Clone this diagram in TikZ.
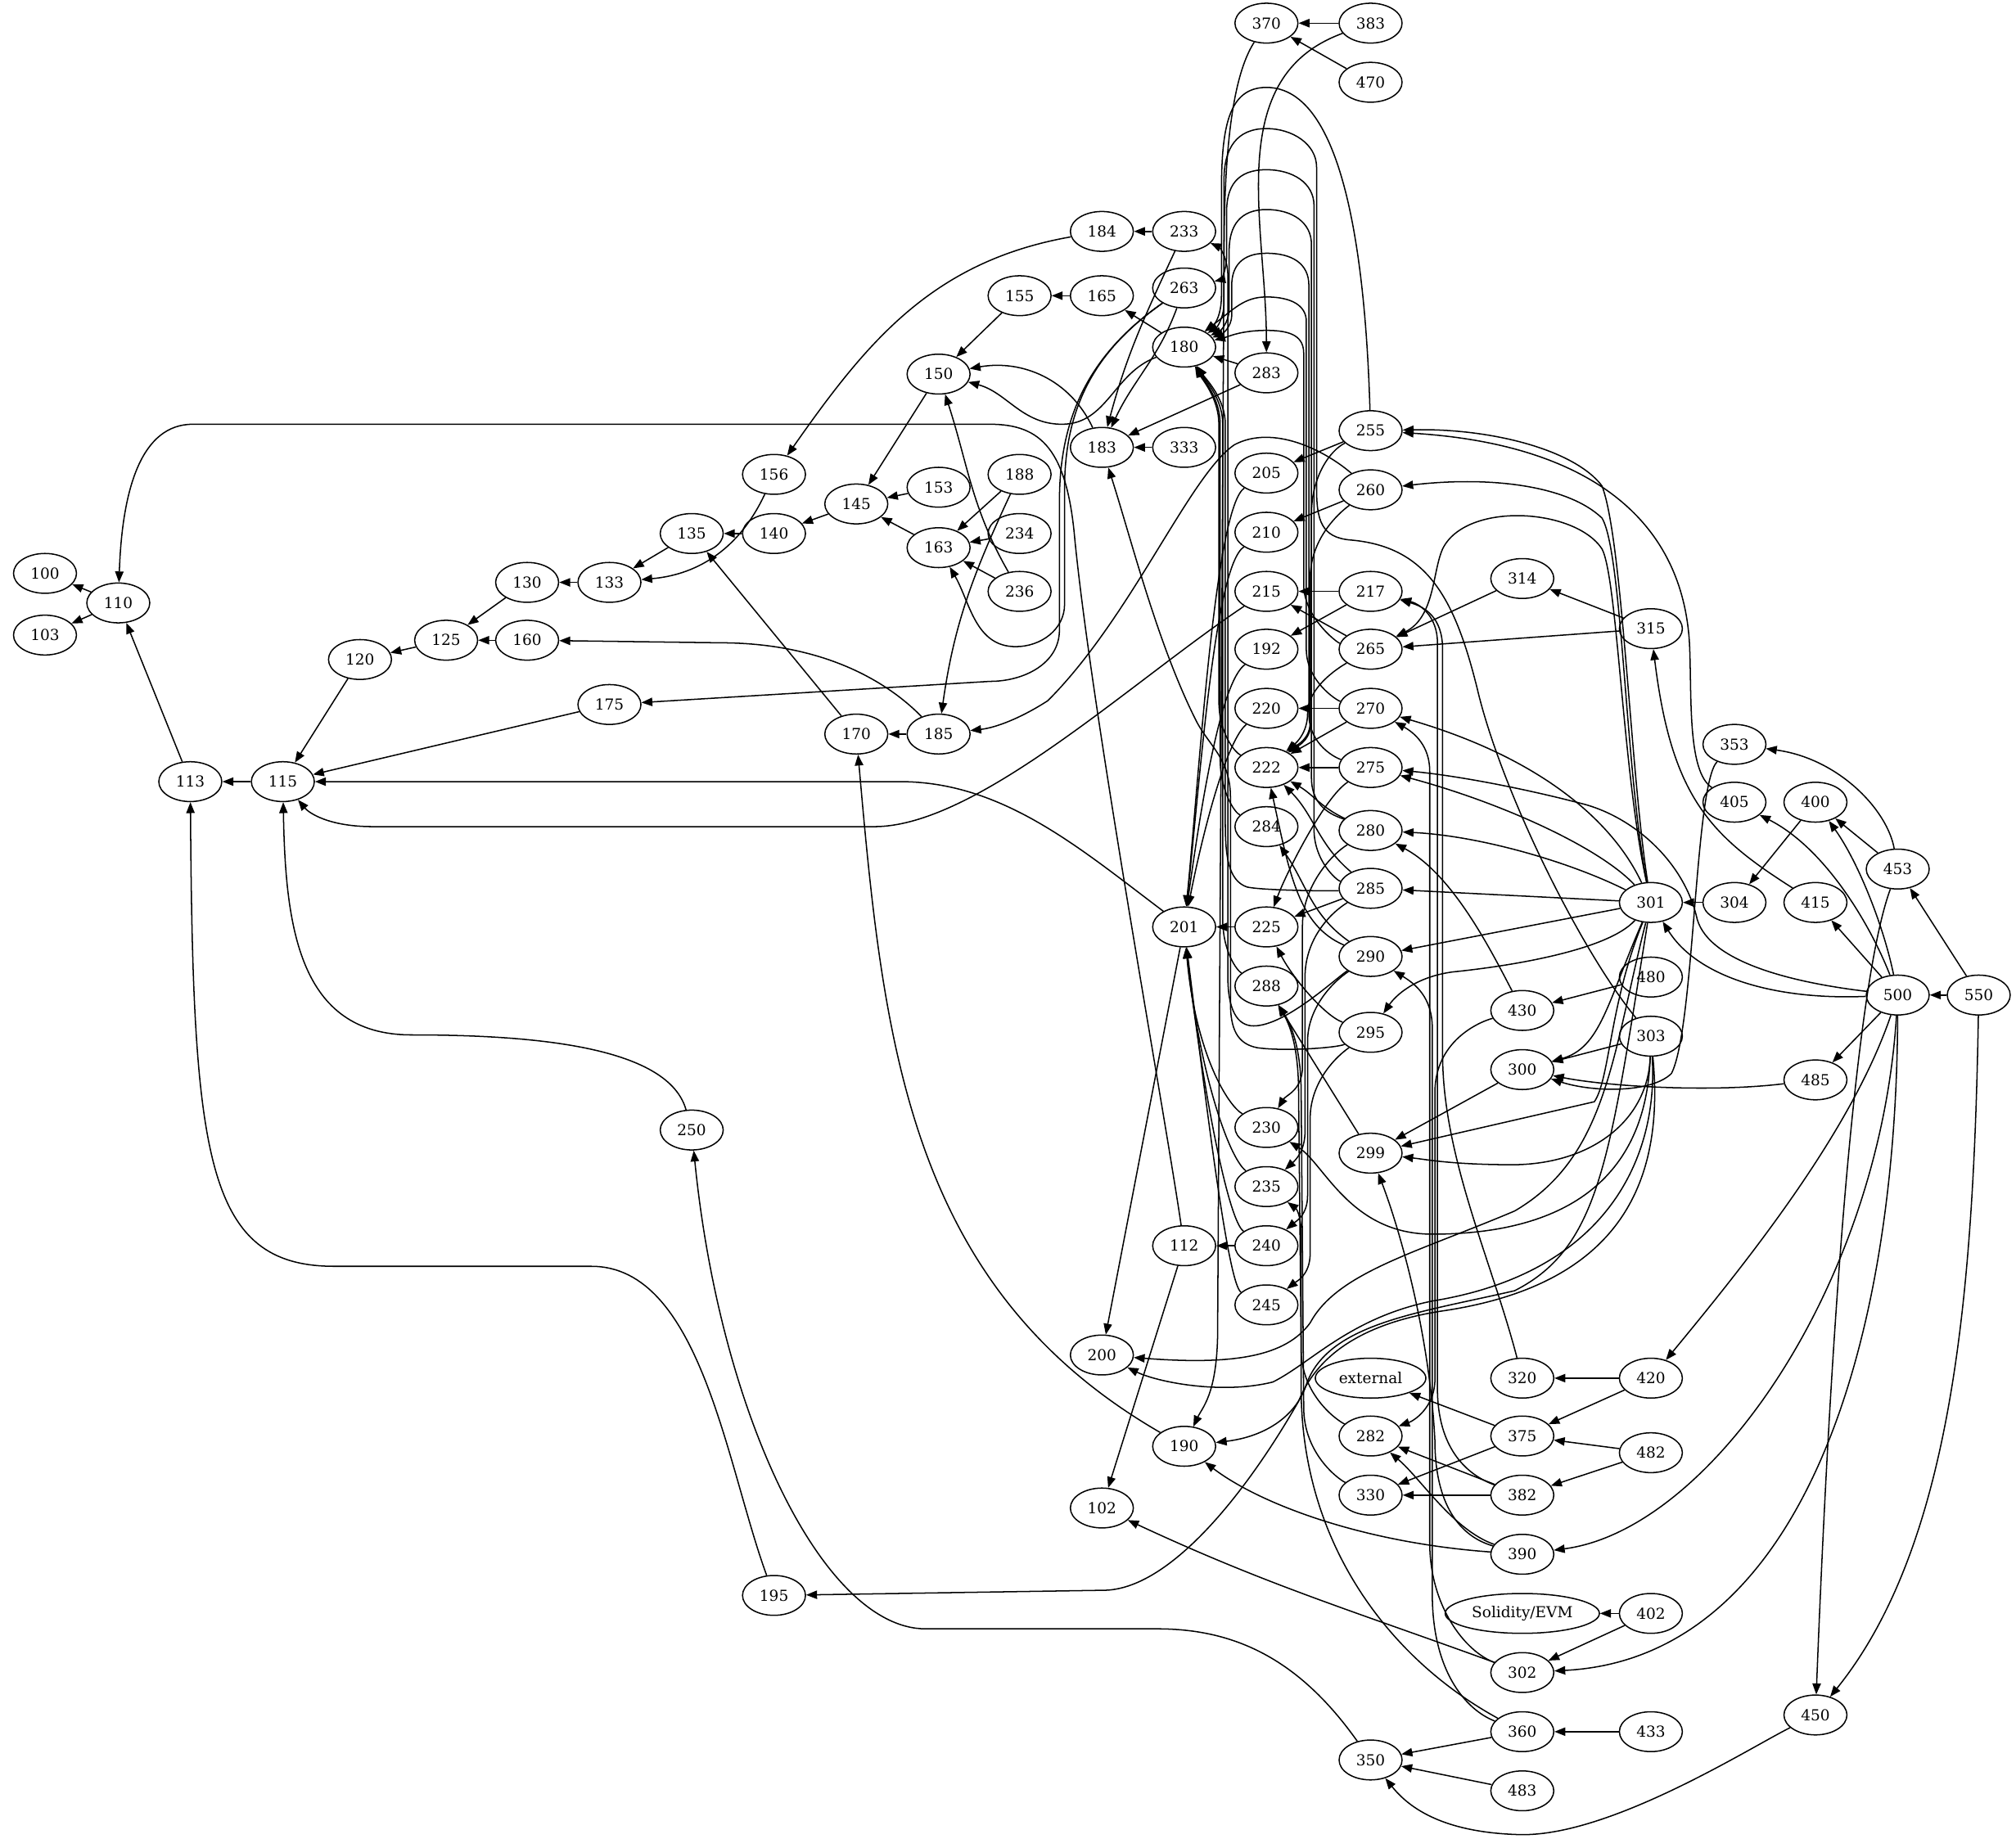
\documentclass[tikz,border=0pt]{standalone}
\usepackage{fontspec}
\setmainfont{DejaVu Serif}
\usetikzlibrary{shapes.geometric, arrows.meta}

\begin{document}
\begin{tikzpicture}[x=0.02cm, y=0.02cm, font=\fontsize{6.7}{8}\selectfont,
    line width=0.55pt, >={Triangle[length=1.7mm, width=1.3mm]},
    nd/.style={draw, ellipse, inner sep=0pt, minimum width=0.98cm, minimum height=0.62cm},
    wide/.style={nd, minimum width=1.72cm}
]
  \useasboundingbox (0,0) rectangle (1568,-1437);

  % columns, left to right
  \node[nd] (n100) at (35,-446) {100};
  \node[nd] (n103) at (35,-494) {103};
  \node[nd] (n110) at (92,-469) {110};
  \node[nd] (n113) at (148,-608) {113};
  \node[nd] (n115) at (220,-608) {115};
  \node[nd] (n120) at (280,-513) {120};
  \node[nd] (n125) at (347,-498) {125};
  \node[nd] (n160) at (410,-498) {160};
  \node[nd] (n130) at (410,-453) {130};
  \node[nd] (n133) at (474,-453) {133};
  \node[nd] (n175) at (474,-548) {175};
  \node[nd] (n135) at (538,-415) {135};
  \node[nd] (n250) at (538,-879) {250};
  \node[nd] (n140) at (602,-415) {140};
  \node[nd] (n156) at (602,-369) {156};
  \node[nd] (n195) at (602,-1241) {195};
  \node[nd] (n145) at (666,-392) {145};
  \node[nd] (n170) at (666,-571) {170};
  \node[nd] (n150) at (730,-291) {150};
  \node[nd] (n153) at (730,-379) {153};
  \node[nd] (n163) at (730,-426) {163};
  \node[nd] (n185) at (730,-571) {185};
  \node[nd] (n155) at (793,-230) {155};
  \node[nd] (n188) at (793,-369) {188};
  \node[nd] (n234) at (793,-415) {234};
  \node[nd] (n236) at (793,-460) {236};
  \node[nd] (n184) at (857,-180) {184};
  \node[nd] (n165) at (857,-230) {165};
  \node[nd] (n183) at (857,-348) {183};
  \node[nd] (n200) at (857,-1054) {200};
  \node[nd] (n102) at (857,-1173) {102};
  \node[nd] (n233) at (921,-180) {233};
  \node[nd] (n263) at (921,-224) {263};
  \node[nd] (n180) at (921,-270) {180};
  \node[nd] (n333) at (921,-348) {333};
  \node[nd] (n201) at (921,-721) {201};
  \node[nd] (n112) at (921,-969) {112};
  \node[nd] (n190) at (921,-1125) {190};
  \node[nd] (n370) at (985,-18) {370};
  \node[nd] (n283) at (985,-290) {283};
  \node[nd] (n205) at (985,-368) {205};
  \node[nd] (n210) at (985,-414) {210};
  \node[nd] (n215) at (985,-460) {215};
  \node[nd] (n192) at (985,-505) {192};
  \node[nd] (n220) at (985,-551) {220};
  \node[nd] (n222) at (985,-597) {222};
  \node[nd] (n284) at (985,-643) {284};
  \node[nd] (n225) at (985,-721) {225};
  \node[nd] (n288) at (985,-767) {288};
  \node[nd] (n230) at (985,-877) {230};
  \node[nd] (n235) at (985,-923) {235};
  \node[nd] (n240) at (985,-969) {240};
  \node[nd] (n245) at (985,-1015) {245};
  \node[nd] (n383) at (1066,-18) {383};
  \node[nd] (n470) at (1066,-64) {470};
  \node[nd] (n255) at (1066,-335) {255};
  \node[nd] (n260) at (1066,-381) {260};
  \node[nd] (n217) at (1066,-460) {217};
  \node[nd] (n265) at (1066,-505) {265};
  \node[nd] (n270) at (1066,-551) {270};
  \node[nd] (n275) at (1066,-597) {275};
  \node[nd] (n280) at (1066,-646) {280};
  \node[nd] (n285) at (1066,-691) {285};
  \node[nd] (n290) at (1066,-744) {290};
  \node[nd] (n295) at (1066,-803) {295};
  \node[nd] (n299) at (1066,-897) {299};
  \node[wide] (ext) at (1066,-1072) {external};
  \node[nd] (n282) at (1066,-1117) {282};
  \node[nd] (n330) at (1066,-1163) {330};
  \node[nd] (n350) at (1066,-1369) {350};
  \node[nd] (n314) at (1184,-450) {314};
  \node[nd] (n430) at (1184,-786) {430};
  \node[nd] (n300) at (1184,-832) {300};
  \node[nd] (n320) at (1184,-1072) {320};
  \node[nd] (n375) at (1184,-1117) {375};
  \node[nd] (n382) at (1184,-1163) {382};
  \node[nd] (n390) at (1184,-1209) {390};
  \node[nd, minimum width=2.4cm] (sol) at (1184,-1255) {Solidity/EVM};
  \node[nd] (n302) at (1184,-1301) {302};
  \node[nd] (n360) at (1184,-1347) {360};
  \node[nd] (n483) at (1184,-1393) {483};
  \node[nd] (n315) at (1284,-489) {315};
  \node[nd] (n301) at (1284,-702) {301};
  \node[nd] (n480) at (1284,-760) {480};
  \node[nd] (n303) at (1284,-806) {303};
  \node[nd] (n420) at (1284,-1072) {420};
  \node[nd] (n482) at (1284,-1130) {482};
  \node[nd] (n402) at (1284,-1255) {402};
  \node[nd] (n433) at (1284,-1347) {433};
  \node[nd] (n353) at (1349,-579) {353};
  \node[nd] (n405) at (1349,-624) {405};
  \node[nd] (n304) at (1349,-702) {304};
  \node[nd] (n400) at (1412,-624) {400};
  \node[nd] (n415) at (1412,-702) {415};
  \node[nd] (n485) at (1412,-840) {485};
  \node[nd] (n450) at (1412,-1334) {450};
  \node[nd] (n453) at (1476,-676) {453};
  \node[nd] (n500) at (1476,-774) {500};
  \node[nd] (n550) at (1539,-774) {550};

  % left part
  \draw[->] (n110) -- (n100);
  \draw[->] (n110) -- (n103);
  \draw[->] (n113) -- (n110);
  \draw[->] (n115) -- (n113);
  \draw[->] (n120) -- (n115);
  \draw[->] (n175) -- (n115);
  \draw[->] (n125) -- (n120);
  \draw[->] (n130) -- (n125);
  \draw[->] (n160) -- (n125);
  \draw[->] (n133) -- (n130);
  \draw[->] (n135) -- (n133);
  \draw[->] (n140) -- (n135);
  \draw[->] (n170) -- (n135);
  \draw[->] (n145) -- (n140);
  \draw[->] (n150) -- (n145);
  \draw[->] (n153) -- (n145);
  \draw[->] (n163) -- (n145);
  \draw[->] (n155) -- (n150);
  \draw[->] (n165) -- (n155);
  \draw[->] (n180) -- (n165);
  \draw[->] (n233) -- (n184);
  \draw[->] (n188) -- (n163);
  \draw[->] (n234) -- (n163);
  \draw[->] (n236) -- (n163);
  \draw[->] (n185) -- (n170);
  \draw[->] (n184) to[out=190,in=55] (n156);
  \draw[->] (n156) to[out=-115,in=5] (n133);
  \draw[->] (n185) .. controls (690,-530) and (640,-500) .. (560,-500) -- (n160);
  \draw[->] (n188) to[out=-115,in=82] (n185);
  \draw[->] (n236) to[out=120,in=-72] (n150);
  \draw[->] (n183) to[out=115,in=10] (n150);
  \draw[->] (n180) to[out=200,in=0] (826,-330) to[out=180,in=-15] (n150);
  \draw[->] (n263) to[out=215,in=90] (828,-380) -- (828,-470) to[out=-90,in=0] (790,-503) to[out=180,in=-60] (n163);
  \draw[->] (n263) to[out=215,in=90] (824,-390) -- (824,-490) to[out=-90,in=0] (770,-530) -- (n175);
  \draw[->] (n190) to[out=150,in=-85] (n170);
  \draw[->] (n201) -- (n200);
  \draw[->] (n240) -- (n112);
  \draw[->] (n112) -- (n102);
  \draw[->] (n302) to[out=160,in=-25] (n102);

  % long connectors to the far left
  \draw[->] (n112) .. controls (905,-860) and (850,-560) .. (836,-420) .. controls (830,-350) and (810,-330) .. (770,-330) -- (150,-330) .. controls (110,-330) and (95,-380) .. (n110);
  \draw[->] (n201) .. controls (840,-660) and (780,-608) .. (700,-608) -- (n115);
  \draw[->] (n215) .. controls (880,-530) and (760,-643) .. (680,-643) -- (290,-643) .. controls (255,-643) and (240,-632) .. (n115);
  \draw[->] (n250) .. controls (520,-815) and (420,-805) .. (320,-805) .. controls (232,-805) and (222,-720) .. (n115);
  \draw[->] (n195) .. controls (565,-1140) and (545,-985) .. (460,-985) -- (260,-985) .. controls (160,-985) and (150,-900) .. (n113);
  \draw[->] (n350) .. controls (1010,-1290) and (960,-1267) .. (900,-1267) -- (720,-1267) .. controls (640,-1267) and (560,-1100) .. (n250);
  \draw[->] (n260) .. controls (1030,-350) and (990,-330) .. (960,-346) .. controls (925,-370) and (880,-480) .. (815,-545) .. controls (795,-558) and (775,-566) .. (n185);

  % top
  \draw[->] (n383) -- (n370);
  \draw[->] (n470) -- (n370);
  \draw[->] (n383) to[out=200,in=90] (n283);
  \draw[->] (n370) .. controls (958,-60) and (952,-120) .. (952,-200) -- (947,-1040) .. controls (946,-1085) and (935,-1095) .. (n190);
  \draw[->] (n283) -- (n180);
  \draw[->] (n283) -- (n183);
  \draw[->] (n333) -- (n183);
  \draw[->] (n233) to[out=-115,in=75] (n183);
  \draw[->] (n263) to[out=-110,in=65] (n183);
  \draw[->] (n255) -- (n205);
  \draw[->] (n260) -- (n210);
  \draw[->] (n217) -- (n215);
  \draw[->] (n265) -- (n215);
  \draw[->] (n217) -- (n192);
  \draw[->] (n270) -- (n220);
  \draw[->] (n225) -- (n201);

  % arcs over the top into 180 and 263
  \draw[->] (n255) .. controls (1062,-200) and (1045,-68) .. (985,-68) .. controls (955,-68) and (950,-100) .. (950,-150) -- (950,-230) .. controls (950,-245) and (945,-252) .. (n180);
  \draw[->] (n303) .. controls (1230,-740) and (1170,-620) .. (1150,-540) .. controls (1132,-465) and (1110,-425) .. (1050,-420) .. controls (1028,-418) and (1024,-405) .. (1024,-380) -- (1024,-130) .. controls (1024,-112) and (1005,-100) .. (985,-100) .. controls (962,-100) and (952,-115) .. (952,-140) -- (952,-235) .. controls (952,-248) and (946,-255) .. (n180);
  \draw[->] (n285) .. controls (1040,-685) and (1022,-670) .. (1022,-645) -- (1022,-160) .. controls (1022,-142) and (1005,-132) .. (985,-132) .. controls (962,-132) and (954,-145) .. (954,-165) -- (954,-200) .. controls (954,-212) and (948,-218) .. (n263);
  \draw[->] (n280) .. controls (1040,-635) and (1020,-630) .. (1020,-605) -- (1020,-190) .. controls (1020,-173) and (1005,-163) .. (985,-163) .. controls (965,-163) and (956,-175) .. (956,-195) -- (956,-240) .. controls (956,-252) and (948,-258) .. (n180);
  \draw[->] (n275) .. controls (1040,-590) and (1018,-580) .. (1018,-555) -- (1018,-222) .. controls (1018,-205) and (1005,-197) .. (985,-197) .. controls (966,-197) and (958,-207) .. (958,-222) -- (958,-245) .. controls (958,-255) and (950,-260) .. (n180);
  \draw[->] (n270) .. controls (1040,-545) and (1016,-530) .. (1016,-505) -- (1016,-250) .. controls (1016,-238) and (1005,-231) .. (985,-231) .. controls (968,-231) and (960,-240) .. (n180);
  \draw[->] (n265) .. controls (1040,-500) and (1014,-480) .. (1014,-455) -- (1014,-275) .. controls (1014,-262) and (1005,-257) .. (985,-257) .. controls (965,-257) and (955,-262) .. (n180);

  % up the left lane
  \draw[->] (n222) .. controls (960,-585) and (948,-570) .. (948,-545) -- (948,-330) .. controls (948,-310) and (935,-295) .. (n180);
  \draw[->] (n284) .. controls (960,-632) and (949,-615) .. (949,-590) -- (949,-330) .. controls (949,-310) and (936,-295) .. (n180);
  \draw[->] (n285) .. controls (1040,-693) and (985,-693) .. (970,-690) .. controls (955,-685) and (953,-665) .. (953,-640) -- (953,-330) .. controls (953,-310) and (938,-295) .. (n180);
  \draw[->] (n288) .. controls (962,-755) and (951,-740) .. (951,-715) -- (951,-330) .. controls (951,-310) and (937,-295) .. (n180);
  \draw[->] (n290) .. controls (1040,-760) and (1000,-798) .. (975,-798) .. controls (962,-798) and (955,-785) .. (955,-760) -- (955,-215) .. controls (955,-200) and (948,-192) .. (n233);
  \draw[->] (n295) .. controls (1040,-815) and (1000,-818) .. (978,-815) .. controls (962,-812) and (957,-800) .. (957,-780) -- (957,-620) .. controls (957,-590) and (940,-580) .. (930,-560) .. controls (900,-500) and (880,-420) .. (n183);

  % into 201
  \draw[->] (n205) .. controls (945,-395) and (933,-600) .. (n201);
  \draw[->] (n210) .. controls (945,-440) and (934,-600) .. (n201);
  \draw[->] (n192) .. controls (950,-530) and (935,-620) .. (n201);
  \draw[->] (n220) .. controls (955,-575) and (937,-640) .. (n201);
  \draw[->] (n230) .. controls (955,-860) and (930,-820) .. (n201);
  \draw[->] (n235) .. controls (955,-900) and (932,-830) .. (n201);
  \draw[->] (n240) .. controls (955,-950) and (934,-840) .. (n201);
  \draw[->] (n245) .. controls (955,-1000) and (937,-850) .. (n201);

  % into 222, 225, 284
  \draw[->] (n255) .. controls (1035,-350) and (1020,-370) .. (1020,-400) -- (1020,-560) .. controls (1020,-575) and (1010,-580) .. (n222);
  \draw[->] (n260) .. controls (1040,-400) and (1019,-420) .. (1019,-450) -- (1019,-562) .. controls (1019,-575) and (1008,-580) .. (n222);
  \draw[->] (n265) .. controls (1040,-520) and (1017,-535) .. (1017,-555) .. controls (1017,-570) and (1008,-578) .. (n222);
  \draw[->] (n270) -- (n222);
  \draw[->] (n275) -- (n222);
  \draw[->] (n280) to[out=155,in=-30] (n222);
  \draw[->] (n285) to[out=140,in=-45] (n222);
  \draw[->] (n290) .. controls (1010,-720) and (1003,-680) .. (n222);
  \draw[->] (n290) to[out=145,in=-55] (n284);
  \draw[->] (n275) .. controls (1030,-620) and (1000,-680) .. (n225);
  \draw[->] (n285) -- (n225);
  \draw[->] (n295) .. controls (1030,-790) and (1005,-760) .. (n225);

  % down the right lane
  \draw[->] (n280) .. controls (1035,-665) and (1013,-690) .. (1013,-720) -- (1013,-830) .. controls (1013,-848) and (1000,-852) .. (n230);
  \draw[->] (n285) .. controls (1035,-710) and (1015,-730) .. (1015,-760) -- (1015,-880) .. controls (1015,-895) and (1008,-902) .. (n235);
  \draw[->] (n290) .. controls (1035,-765) and (1017,-785) .. (1017,-810) -- (1017,-930) .. controls (1017,-945) and (1008,-950) .. (n240);
  \draw[->] (n295) .. controls (1035,-825) and (1019,-845) .. (1019,-870) -- (1019,-975) .. controls (1019,-992) and (1008,-997) .. (n245);
  \draw[->] (n360) .. controls (1080,-1290) and (1012,-1200) .. (1012,-1080) -- (1012,-960) .. controls (1012,-945) and (1008,-940) .. (n235);
  \draw[->] (n303) .. controls (1280,-930) and (1200,-960) .. (1114,-960) .. controls (1050,-960) and (1030,-905) .. (n230);
  \draw[->] (n299) -- (n288);
  \draw[->] (n282) .. controls (1040,-1105) and (1012,-1085) .. (1012,-1050) -- (1010,-850) .. controls (1010,-820) and (1005,-800) .. (n288);
  \draw[->] (n330) .. controls (1040,-1150) and (1014,-1130) .. (1014,-1095) -- (1012,-850) .. controls (1012,-820) and (1006,-800) .. (n288);

  % lane from the bottom nodes
  \draw[->] (n430) .. controls (1150,-795) and (1116,-810) .. (1116,-850) -- (1116,-1075) .. controls (1115,-1095) and (1100,-1105) .. (n282);
  \draw[->] (n382) .. controls (1135,-1145) and (1118,-1120) .. (1118,-1080) -- (1118,-500) .. controls (1118,-480) and (1105,-470) .. (n217);
  \draw[->] (n320) .. controls (1160,-980) and (1122,-900) .. (1122,-820) -- (1122,-505) .. controls (1122,-480) and (1108,-472) .. (n217);
  \draw[->] (n302) .. controls (1140,-1285) and (1112,-1250) .. (1112,-1200) -- (1112,-600) .. controls (1112,-580) and (1100,-570) .. (n270);
  \draw[->] (n360) .. controls (1140,-1330) and (1114,-1300) .. (1114,-1240) -- (1114,-800) .. controls (1114,-775) and (1100,-765) .. (n290);
  \draw[->] (n390) .. controls (1135,-1195) and (1116,-1170) .. (1116,-1120) .. controls (1112,-1040) and (1090,-960) .. (n299);
  \draw[->] (n390) .. controls (1130,-1190) and (1105,-1150) .. (n282);
  \draw[->] (n390) .. controls (1060,-1200) and (980,-1170) .. (n190);
  \draw[->] (n382) -- (n282);
  \draw[->] (n382) -- (n330);
  \draw[->] (n375) -- (n330);
  \draw[->] (n375) -- (ext);
  \draw[->] (n420) -- (n320);
  \draw[->] (n420) -- (n375);
  \draw[->] (n482) -- (n375);
  \draw[->] (n482) -- (n382);
  \draw[->] (n402) -- (sol);
  \draw[->] (n402) -- (n302);
  \draw[->] (n433) -- (n360);
  \draw[->] (n360) -- (n350);
  \draw[->] (n483) -- (n350);
  \draw[->] (n450) .. controls (1360,-1360) and (1250,-1430) .. (1180,-1427) .. controls (1120,-1425) and (1095,-1405) .. (n350);

  % right part
  \draw[->] (n301) .. controls (1268,-600) and (1262,-420) .. (1246,-378) .. controls (1225,-350) and (1160,-333) .. (n255);
  \draw[->] (n405) .. controls (1312,-600) and (1316,-540) .. (1314,-500) .. controls (1308,-400) and (1230,-345) .. (n255);
  \draw[->] (n301) .. controls (1264,-600) and (1262,-430) .. (1246,-403) .. controls (1220,-378) and (1160,-370) .. (n260);
  \draw[->] (n301) .. controls (1262,-600) and (1258,-450) .. (1246,-427) .. controls (1225,-395) and (1140,-390) .. (1122,-427) .. controls (1114,-445) and (1116,-480) .. (n265);
  \draw[->] (n315) -- (n314);
  \draw[->] (n315) -- (n265);
  \draw[->] (n314) -- (n265);
  \draw[->] (n415) .. controls (1330,-650) and (1300,-620) .. (n315);
  \draw[->] (n301) .. controls (1255,-640) and (1200,-590) .. (n270);
  \draw[->] (n301) .. controls (1245,-660) and (1170,-625) .. (n275);
  \draw[->] (n500) .. controls (1400,-765) and (1330,-750) .. (1320,-715) .. controls (1310,-670) and (1270,-635) .. (1230,-625) .. controls (1180,-612) and (1130,-603) .. (n275);
  \draw[->] (n301) .. controls (1220,-670) and (1150,-650) .. (n280);
  \draw[->] (n430) .. controls (1160,-740) and (1130,-680) .. (n280);
  \draw[->] (n301) -- (n285);
  \draw[->] (n301) -- (n290);
  \draw[->] (n301) .. controls (1250,-740) and (1170,-752) .. (1130,-756) .. controls (1100,-760) and (1085,-775) .. (n295);
  \draw[->] (n301) .. controls (1250,-780) and (1245,-815) .. (n300);
  \draw[->] (n303) -- (n300);
  \draw[->] (n353) .. controls (1318,-610) and (1318,-800) .. (1300,-835) .. controls (1285,-850) and (1240,-850) .. (n300);
  \draw[->] (n485) .. controls (1330,-850) and (1250,-845) .. (n300);
  \draw[->] (n480) -- (n430);
  \draw[->] (n300) -- (n299);
  \draw[->] (n301) .. controls (1252,-780) and (1252,-840) .. (1240,-857) -- (n299);
  \draw[->] (n303) .. controls (1282,-870) and (1240,-905) .. (1178,-906) .. controls (1130,-906) and (1110,-902) .. (n299);
  \draw[->] (n301) .. controls (1254,-820) and (1250,-900) .. (1178,-942) .. controls (1100,-975) and (1040,-990) .. (1019,-1029) .. controls (1000,-1055) and (960,-1062) .. (n200);
  \draw[->] (n303) .. controls (1290,-900) and (1250,-990) .. (1114,-1012) .. controls (1050,-1025) and (1020,-1060) .. (990,-1075) .. controls (950,-1085) and (900,-1075) .. (n200);
  \draw[->] (n301) .. controls (1252,-900) and (1245,-970) .. (1178,-1004) .. controls (1100,-1022) and (1030,-1030) .. (1015,-1080) .. controls (1005,-1105) and (980,-1118) .. (n190);
  \draw[->] (n303) .. controls (1295,-920) and (1260,-1000) .. (1120,-1020) .. controls (1045,-1032) and (1020,-1065) .. (1010,-1090) .. controls (970,-1160) and (910,-1237) .. (858,-1237) -- (n195);
  \draw[->] (n304) -- (n301);
  \draw[->] (n400) -- (n304);
  \draw[->] (n500) .. controls (1380,-778) and (1320,-760) .. (n301);
  \draw[->] (n550) -- (n500);
  \draw[->] (n550) -- (n453);
  \draw[->] (n453) -- (n400);
  \draw[->] (n453) .. controls (1468,-630) and (1430,-590) .. (n353);
  \draw[->] (n500) .. controls (1465,-720) and (1445,-670) .. (n400);
  \draw[->] (n500) .. controls (1455,-720) and (1420,-660) .. (n405);
  \draw[->] (n500) -- (n415);
  \draw[->] (n500) -- (n485);
  \draw[->] (n500) .. controls (1440,-880) and (1360,-980) .. (n420);
  \draw[->] (n500) .. controls (1462,-1000) and (1330,-1190) .. (n390);
  \draw[->] (n500) .. controls (1475,-1050) and (1400,-1290) .. (n302);
  \draw[->] (n453) .. controls (1445,-760) and (1425,-1000) .. (n450);
  \draw[->] (n550) .. controls (1535,-1000) and (1520,-1200) .. (n450);
\end{tikzpicture}
\end{document}
